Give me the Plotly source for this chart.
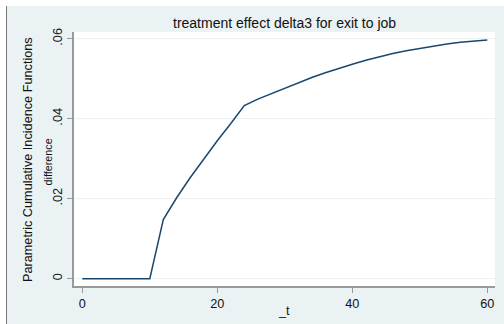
import plotly.graph_objects as go

# data
t_vals = [0, 2, 4, 6, 8, 10, 12, 14, 16, 18, 20, 22, 24,
          26, 28, 30, 32, 34, 36, 38, 40, 42, 44, 46, 48, 50, 52, 54, 56, 58, 60]
diff_vals = [0, 0, 0, 0, 0, 0, 0.0148, 0.0203, 0.0253, 0.0300, 0.0345, 0.0388, 0.0433,
             0.0449, 0.0463, 0.0477, 0.0490, 0.0503, 0.0515, 0.0526, 0.0536, 0.0546,
             0.0555, 0.0563, 0.0570, 0.0576, 0.0582, 0.0587, 0.0591, 0.0594, 0.0597]
x_ticks = [0, 20, 40, 60]
x_tick_text = ["0", "20", "40", "60"]
y_ticks = [0, 0.02, 0.04, 0.06]
y_tick_text = ["0", ".02", ".04", ".06"]

title_text = "treatment effect delta3 for exit to job"
ytitle1 = "Parametric Cumulative Incidence Functions"
ytitle2 = "difference"
xtitle = "_t"

W, H = 504, 324
L, R, T, B = 74, 9, 32, 38
pw, ph = W - L - R, H - T - B

def px(x):
    return (x - L) / pw

def py(y):
    return (H - B - y) / ph

FONT = "Liberation Sans, Arial, sans-serif"
BG = "#EAF2F3"
AX = "#9a9a9a"

fig = go.Figure()
fig.add_trace(go.Scatter(x=t_vals, y=diff_vals, mode="lines",
                         line=dict(color="#1A476F", width=1.5),
                         showlegend=False, hoverinfo="skip"))

fig.update_layout(
    width=W, height=H,
    margin=dict(l=L, r=R, t=T, b=B, pad=0),
    paper_bgcolor=BG, plot_bgcolor="white",
    font=dict(family=FONT, size=12.7, color="#111111"),
    xaxis=dict(range=[-1.23, 61.14], tickvals=x_ticks, ticktext=x_tick_text,
               showgrid=False, zeroline=False, showline=True, linecolor=AX,
               linewidth=2, ticks="outside", ticklen=5, tickwidth=1, tickcolor=AX,
               tickfont=dict(family=FONT, size=12.7, color="#111111")),
    yaxis=dict(range=[-0.00183, 0.06168], tickvals=y_ticks, ticktext=y_tick_text,
               showgrid=True, gridcolor=BG, gridwidth=1.2, zeroline=False,
               showline=True, linecolor=AX, linewidth=2, ticks="outside",
               ticklen=5, tickwidth=1, tickcolor=AX, tickangle=-90,
               tickfont=dict(family=FONT, size=12.7, color="#111111")),
    shapes=[
        dict(type="rect", xref="paper", yref="paper", x0=px(0), x1=px(W + 2),
             y0=py(6), y1=py(-2), fillcolor="white", line=dict(width=0), layer="below"),
        dict(type="rect", xref="paper", yref="paper", x0=px(-2), x1=px(6),
             y0=py(H + 2), y1=py(-2), fillcolor="white", line=dict(width=0), layer="below"),
        dict(type="line", xref="paper", yref="paper", x0=px(6.5), x1=px(6.5),
             y0=py(6), y1=py(H + 2), line=dict(color="#777777", width=1), layer="below"),
    ],
    annotations=[
        dict(text=title_text, xref="paper", yref="paper", x=px(284), y=py(23),
             xanchor="center", yanchor="middle", showarrow=False,
             font=dict(family=FONT, size=14, color="#111111")),
        dict(text=ytitle1, xref="paper", yref="paper", x=px(28), y=py(160),
             xanchor="center", yanchor="middle", showarrow=False, textangle=-90,
             font=dict(family=FONT, size=12.7, color="#111111")),
        dict(text=ytitle2, xref="paper", yref="paper", x=px(47.5), y=py(162),
             xanchor="center", yanchor="middle", showarrow=False, textangle=-90,
             font=dict(family=FONT, size=10.8, color="#111111")),
        dict(text=xtitle, xref="paper", yref="paper", x=px(284), y=py(311),
             xanchor="center", yanchor="middle", showarrow=False,
             font=dict(family=FONT, size=12.7, color="#111111")),
    ],
)

fig.write_html("out.html")
